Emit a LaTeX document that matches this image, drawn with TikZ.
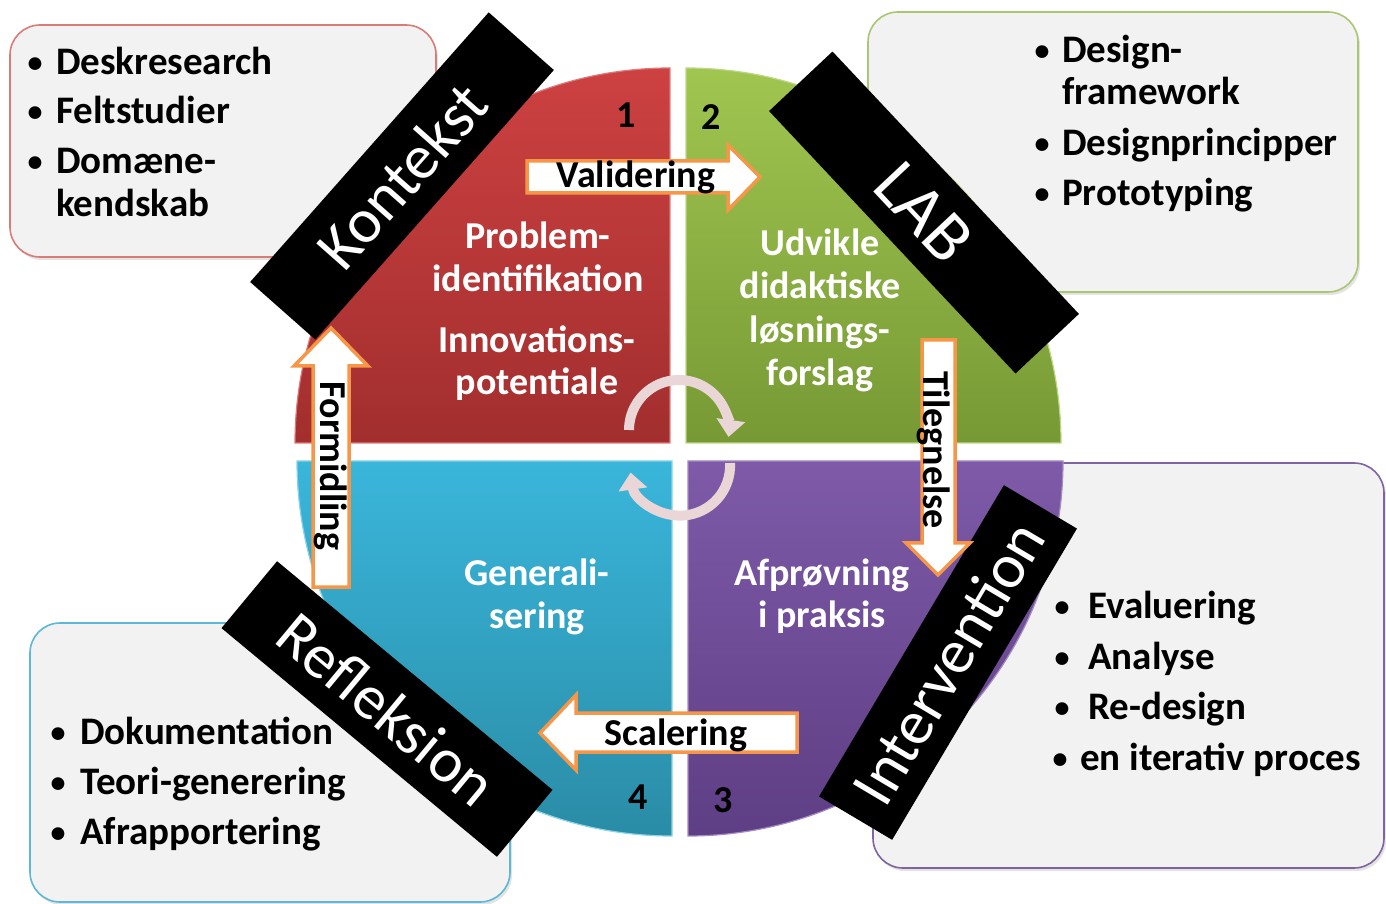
\documentclass[tikz,border=0pt]{standalone}
\usepackage{fontspec}
\setmainfont{Carlito}
\usetikzlibrary{arrows.meta,shadows}
\definecolor{boxgray}{HTML}{F2F2F2}
\definecolor{tlborder}{HTML}{D97C78}
\definecolor{trborder}{HTML}{A9C772}
\definecolor{blborder}{HTML}{5BB8D6}
\definecolor{brborder}{HTML}{8064A2}
\definecolor{arrorange}{HTML}{F79646}
\definecolor{arcpink}{HTML}{EAD6D6}
\definecolor{redtop}{HTML}{CD4141}
\definecolor{redbot}{HTML}{A22E2E}
\definecolor{greentop}{HTML}{A0C650}
\definecolor{greenbot}{HTML}{779935}
\definecolor{bluetop}{HTML}{3AB6DB}
\definecolor{bluebot}{HTML}{2A8CA6}
\definecolor{purptop}{HTML}{7E5AA8}
\definecolor{purpbot}{HTML}{5E3E84}
\begin{document}
\begin{tikzpicture}[x=1pt,y=1pt,
  infobox/.style={draw, line width=1.6pt, fill=boxgray, rounded corners=30pt, inner sep=0pt,
    drop shadow={shadow xshift=2pt,shadow yshift=-3pt,opacity=0.22}},
  banner/.style={fill=black, text=white, font=\fontsize{63}{63}\selectfont, inner sep=0pt,
    minimum width=360pt, minimum height=87pt},
  btxt/.style={font=\fontsize{39}{39}\selectfont\bfseries, anchor=base west, inner sep=0pt},
  bul/.style={font=\fontsize{30}{30}\selectfont\bfseries, anchor=base, inner sep=0pt},
  qtxt/.style={font=\fontsize{38}{38}\selectfont\bfseries, text=white, anchor=base, inner sep=0pt},
  num/.style={font=\fontsize{38}{38}\selectfont\bfseries, anchor=base, inner sep=0pt},
  alabel/.style={font=\fontsize{38}{38}\selectfont\bfseries, anchor=base, inner sep=0pt},
  blockarrow/.style={draw=arrorange, fill=white, line width=3.5pt, line join=miter},
  cyclearrow/.style={draw=arcpink, line width=10pt, -{Triangle[width=28pt,length=17pt]}}
]
\path[use as bounding box] (0,0) rectangle (1386,903);
\clip (0,0) rectangle (1386,903);

% info boxes (behind the quadrants)
\node[infobox, draw=tlborder, minimum width=426pt, minimum height=232pt] (boxTL) at (223,762) {};
\node[infobox, draw=trborder, minimum width=490pt, minimum height=280pt] (boxTR) at (1113,751) {};
\node[infobox, draw=blborder, minimum width=480pt, minimum height=279pt] (boxBL) at (270,140.5) {};
\node[infobox, draw=brborder, minimum width=511pt, minimum height=405pt] (boxBR) at (1128.5,237.5) {};

% quadrants
\path[top color=redtop, bottom color=redbot, draw=redtop!70!white, line width=1.2pt]
  (670,460) -- (670,835) arc[start angle=90, end angle=180, radius=375] -- cycle;
\path[top color=greentop, bottom color=greenbot, draw=greentop!70!white, line width=1.2pt]
  (686,460) -- (686,835) arc[start angle=90, end angle=0, radius=375] -- cycle;
\path[top color=bluetop, bottom color=bluebot, draw=bluetop!60!white, line width=1.2pt]
  (672,442) -- (297,442) arc[start angle=180, end angle=270, radius=375] -- cycle;
\path[top color=purptop, bottom color=purpbot, draw=purptop!70!white, line width=1.2pt]
  (688,442) -- (1063,442) arc[start angle=0, end angle=-90, radius=375] -- cycle;

% box texts
\node[bul] (tb1) at (35,830) {•}; \node[btxt] (tt1) at (56,828) {Deskresearch};
\node[bul] (tb2) at (35,781) {•}; \node[btxt] (tt2) at (56,779) {Feltstudier};
\node[bul] (tb3) at (35,731) {•}; \node[btxt] (tt3) at (56,729) {Domæne-};
\node[btxt] (tt4) at (56,686) {kendskab};

\node[bul] (rb1) at (1042,842) {•}; \node[btxt] (rt1) at (1062,840) {Design-};
\node[btxt] (rt2) at (1062,798) {framework};
\node[bul] (rb3) at (1042,749) {•}; \node[btxt] (rt3) at (1062,747) {Designprincipper};
\node[bul] (rb4) at (1042,699) {•}; \node[btxt] (rt4) at (1062,697) {Prototyping};

\node[bul] (bb1) at (1062,287) {•}; \node[btxt] (bt1) at (1088,285) {Evaluering};
\node[bul] (bb2) at (1062,236) {•}; \node[btxt] (bt2) at (1088,234) {Analyse};
\node[bul] (bb3) at (1062,186) {•}; \node[btxt] (bt3) at (1088,184) {Re-design};
\node[bul] (bb4) at (1060,135) {•}; \node[btxt] (bt4) at (1080,133) {en iterativ proces};

\node[bul] (lb1) at (58,161) {•}; \node[btxt] (lt1) at (80,159) {Dokumentation};
\node[bul] (lb2) at (58,111) {•}; \node[btxt] (lt2) at (80,109) {Teori-generering};
\node[bul] (lb3) at (58,61) {•}; \node[btxt] (lt3) at (80,59) {Afrapportering};

% quadrant texts
\node[qtxt] (q1a) at (538,654) {Problem-};
\node[qtxt] (q1b) at (538,611) {identifikation};
\node[qtxt] (q1c) at (537,550) {Innovations-};
\node[qtxt] (q1d) at (537,508) {potentiale};
\node[qtxt] (q2a) at (820,647) {Udvikle};
\node[qtxt] (q2b) at (820,604) {didaktiske};
\node[qtxt] (q2c) at (820,560) {løsnings-};
\node[qtxt] (q2d) at (820,517) {forslag};
\node[qtxt] (q4a) at (537,318) {Generali-};
\node[qtxt] (q4b) at (537,275) {sering};
\node[qtxt] (q3a) at (822,318) {Afprøvning};
\node[qtxt] (q3b) at (822,276) {i praksis};

% numbers
\node[num] (n1) at (626,775) {1};
\node[num] (n2) at (711,773) {2};
\node[num] (n3) at (723,91) {3};
\node[num] (n4) at (638,94) {4};

% center cycle arrows
\draw[cyclearrow] (629,473) arc[start angle=180, end angle=-8, radius=50];
\draw[cyclearrow] (730,440) arc[start angle=3, end angle=-172, radius=50];

% banners
\node[banner, rotate=48.5] (kontekst) at (402,727) {Kontekst};
\node[banner, rotate=-46.8, font=\fontsize{70}{70}\selectfont] (lab) at (924,690.5) {LAB};
\node[banner, rotate=59.3, minimum width=362pt, minimum height=85pt] (intervention) at (948,240.5) {Intervention};
\node[banner, rotate=-39.7, minimum width=358pt] (refleksion) at (387,194) {Refleksion};

% block arrows
\path[blockarrow] (527,742) -- (728,742) -- (728,758) -- (760,726) -- (728,693) -- (728,710) -- (527,710) -- cycle;
\path[blockarrow] (922,563) -- (955,563) -- (955,360) -- (970,360) -- (938,328) -- (906,360) -- (922,360) -- cycle;
\path[blockarrow] (797,190) -- (576,190) -- (576,208) -- (540,170) -- (576,133) -- (576,151) -- (797,151) -- cycle;
\path[blockarrow] (313,316) -- (313,537) -- (294,537) -- (331,575) -- (368,537) -- (349,537) -- (349,316) -- cycle;

\node[alabel] (validering) at (636,715) {Validering};
\node[alabel, rotate=-90] (tilegnelse) at (923,453) {Tilegnelse};
\node[alabel] (scalering) at (676,158) {Scalering};
\node[alabel, rotate=-90] (formidling) at (320,437) {Formidling};
\end{tikzpicture}
\end{document}
